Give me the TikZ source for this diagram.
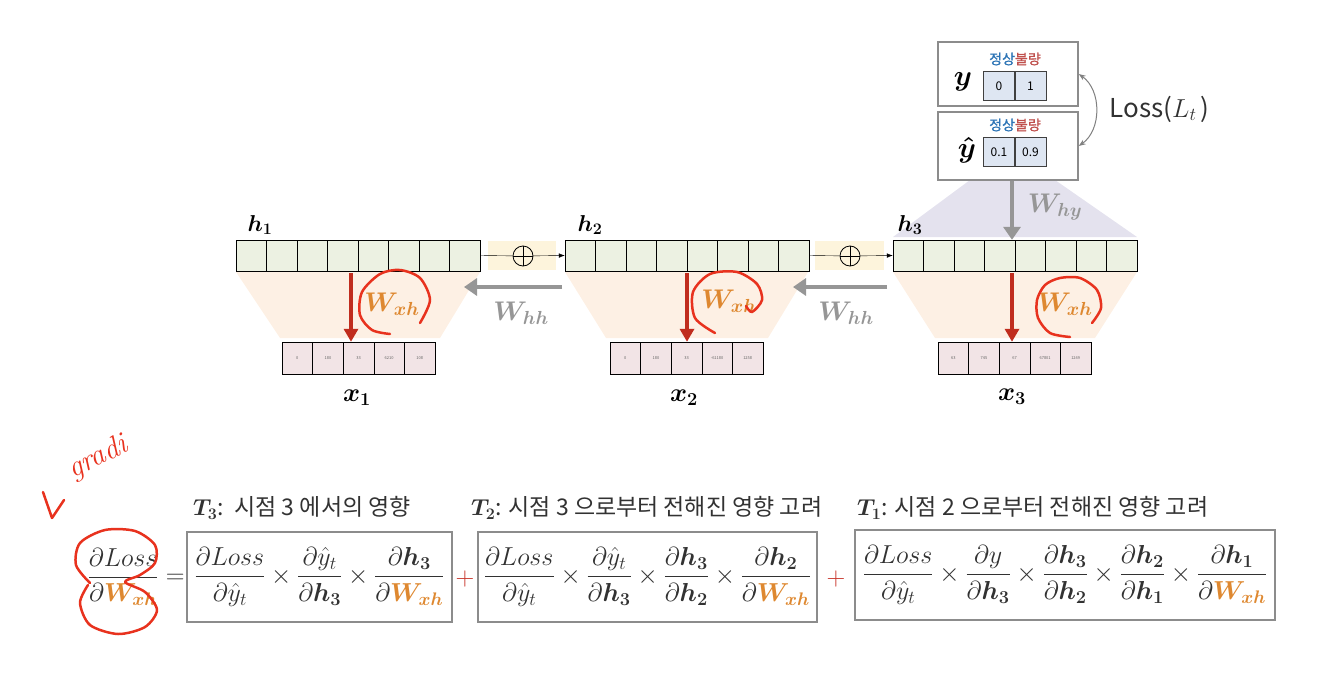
\RequirePackage{fix-cm}
\documentclass[tikz,border=0pt]{standalone}
\usepackage{amsmath}
\usepackage{fontspec}
\newfontfamily\krfont{Noto Sans CJK KR}
\newfontfamily\krbold[FakeBold=1.2]{Noto Sans CJK KR}
\usetikzlibrary{arrows.meta}

\definecolor{hgreen}{RGB}{236,241,226}
\definecolor{xpink}{RGB}{242,228,230}
\definecolor{ycellblue}{RGB}{222,230,242}
\definecolor{peach}{RGB}{253,240,228}
\definecolor{hlyellow}{RGB}{253,244,220}
\definecolor{lavender}{RGB}{228,226,238}
\definecolor{wgray}{RGB}{150,150,150}
\definecolor{worange}{RGB}{222,136,48}
\definecolor{darkred}{RGB}{192,45,30}
\definecolor{penred}{RGB}{232,50,30}
\definecolor{plusred}{RGB}{200,55,45}
\definecolor{boxgray}{RGB}{140,140,140}
\definecolor{kblue}{RGB}{46,117,182}
\definecolor{kred}{RGB}{192,80,77}
\definecolor{textgray}{RGB}{50,50,50}

\begin{document}
\begin{tikzpicture}[x=1pt, y=-1pt,
    hcell/.style={draw, fill=hgreen, minimum width=30.5pt, minimum height=31pt, inner sep=0pt},
    xcell/.style={draw, fill=xpink, minimum width=30.6pt, minimum height=32pt, inner sep=0pt,
                  font=\krfont\fontsize{4}{4}\selectfont, text=black!60},
    ycell/.style={draw=black!75, fill=ycellblue, minimum width=31pt, minimum height=29pt, inner sep=0pt,
                  font=\krfont\fontsize{12}{12}\selectfont},
    outbox/.style={draw=boxgray, line width=1.5pt, fill=white, minimum width=140pt, inner sep=0pt},
    tagtext/.style={font=\krbold\fontsize{14}{14}\selectfont, inner sep=0pt},
    garrow/.style={draw=wgray, line width=4.5pt, -{Triangle[length=13pt, width=17pt]}},
    rarrow/.style={draw=darkred, line width=3.5pt, -{Triangle[length=13pt, width=14pt]}},
    oplus/.style={circle, draw, thick, minimum size=20pt, inner sep=0pt,
                  path picture={\draw (path picture bounding box.north) -- (path picture bounding box.south)
                                (path picture bounding box.west) -- (path picture bounding box.east);}},
    vlabel/.style={font=\fontsize{26}{26}\selectfont, inner sep=0pt},
    wlabel/.style={font=\fontsize{27}{27}\selectfont, inner sep=0pt},
    termbox/.style={draw=boxgray, line width=1.5pt, minimum height=90pt, inner sep=2pt,
                    font=\fontsize{26}{30}\selectfont, text=textgray},
    header/.style={font=\krfont\fontsize{23}{23}\selectfont, text=textgray, anchor=west, inner sep=0pt},
    redpen/.style={draw=penred, line width=2.5pt, line cap=round, line join=round}
  ]
  \useasboundingbox (0,0) rectangle (1340,696);

  % shaded backgrounds
  \fill[lavender] (970,180) -- (1055,180) -- (1137,237) -- (893,237) -- cycle;
  \fill[peach] (236,272) -- (480,272) -- (440,338) -- (280,338) -- cycle;
  \fill[peach] (565,272) -- (808,272) -- (768,338) -- (606,338) -- cycle;
  \fill[peach] (893,272) -- (1137,272) -- (1095,338) -- (935,338) -- cycle;
  \fill[hlyellow] (488,241) rectangle (556,270);
  \fill[hlyellow] (815,241) rectangle (884,270);

  % output y and y-hat
  \node[outbox, minimum height=64pt] (ybox) at (1008,74) {};
  \node[outbox, minimum height=68pt] (yhbox) at (1008,146) {};
  \node[tagtext] (ytag) at (1015,59) {\textcolor{kblue}{정상}\textcolor{kred}{불량}};
  \node[tagtext] (yhtag) at (1015,125) {\textcolor{kblue}{정상}\textcolor{kred}{불량}};
  \node[ycell] (y0) at (999,86) {0};
  \node[ycell] (y1) at (1030.5,86) {1};
  \node[ycell] (yh0) at (999,152) {0.1};
  \node[ycell] (yh1) at (1030.5,152) {0.9};
  \node[vlabel, font=\fontsize{29}{29}\selectfont] (ylab) at (963,82) {$\boldsymbol{y}$};
  \node[vlabel, font=\fontsize{29}{29}\selectfont] (yhlab) at (967,150) {$\boldsymbol{\hat{y}}$};
  \draw[gray, line width=1pt, {Stealth[length=7pt]}-{Stealth[length=7pt]}] (ybox.east) to[bend left=55] (yhbox.east);
  \node[font=\krfont\fontsize{26}{26}\selectfont, text=textgray, anchor=west] (loss) at (1106,109) {Loss($L_t$\,)};

  % hidden states
  \foreach \v/\x in {1/236, 2/565, 3/893}
    \foreach \k in {0,...,7}
      \node[hcell] (h\v-\k) at (\x+15.25+30.5*\k, 255.5) {};
  \node[vlabel, font=\fontsize{23}{23}\selectfont] (h1lab) at (260,225) {$\boldsymbol{h_1}$};
  \node[vlabel, font=\fontsize{23}{23}\selectfont] (h2lab) at (590,225) {$\boldsymbol{h_2}$};
  \node[vlabel, font=\fontsize{23}{23}\selectfont] (h3lab) at (910,225) {$\boldsymbol{h_3}$};

  \node[oplus] (p1) at (523,256) {};
  \node[oplus] (p2) at (850,256) {};
  \draw (h1-7.east) -- (p1);
  \draw[-{Latex[length=6pt]}] (p1) -- (h2-0.west);
  \draw (h2-7.east) -- (p2);
  \draw[-{Latex[length=6pt]}] (p2) -- (h3-0.west);

  % inputs
  \foreach \t [count=\k from 0] in {0,180,33,6210,108}
    \node[xcell] (x1-\k) at (282+15.3+30.6*\k, 358) {\t};
  \foreach \t [count=\k from 0] in {0,180,33,-61180,1258}
    \node[xcell] (x2-\k) at (610+15.3+30.6*\k, 358) {\t};
  \foreach \t [count=\k from 0] in {63,745,67,67801,1249}
    \node[xcell] (x3-\k) at (938+15.3+30.6*\k, 358) {\t};
  \node[vlabel] (x1lab) at (357,398) {$\boldsymbol{x_1}$};
  \node[vlabel] (x2lab) at (684,398) {$\boldsymbol{x_2}$};
  \node[vlabel] (x3lab) at (1012,397) {$\boldsymbol{x_3}$};

  % weights
  \coordinate (a1) at (351,273);
  \coordinate (a2) at (687,273);
  \coordinate (a3) at (1012,273);
  \draw[rarrow] (a1) -- (a1 |- x1-0.north);
  \draw[rarrow] (a2) -- (a2 |- x2-0.north);
  \draw[rarrow] (a3) -- (a3 |- x3-0.north);
  \node[wlabel, text=worange] (wxh1) at (392,304) {$\boldsymbol{W_{xh}}$};
  \node[wlabel, text=worange] (wxh2) at (729,301) {$\boldsymbol{W_{xh}}$};
  \node[wlabel, text=worange] (wxh3) at (1065,304) {$\boldsymbol{W_{xh}}$};

  \coordinate (b1) at (562,287);
  \coordinate (b1e) at (464,287);
  \coordinate (b2) at (887,287);
  \coordinate (b2e) at (793,287);
  \draw[garrow] (b1) -- (b1e);
  \draw[garrow] (b2) -- (b2e);
  \node[wlabel, text=wgray] (whh1) at (521,313) {$\boldsymbol{W_{hh}}$};
  \node[wlabel, text=wgray] (whh2) at (846,313) {$\boldsymbol{W_{hh}}$};

  \coordinate (c3) at (1012,181);
  \draw[garrow] (c3) -- (c3 |- h3-3.north);
  \node[wlabel, text=wgray] (why) at (1055,207) {$\boldsymbol{W_{hy}}$};

  % gradient terms
  \node[header] (t3txt) at (193,508) {$\boldsymbol{T_3}$:\, 시점 3 에서의 영향};
  \node[header] (t2txt) at (471,508) {$\boldsymbol{T_2}$: 시점 3 으로부터 전해진 영향 고려};
  \node[header] (t1txt) at (857,508) {$\boldsymbol{T_1}$: 시점 2 으로부터 전해진 영향 고려};

  \node[termbox, minimum width=265pt] (t3) at (319.5,577)
    {$\displaystyle\frac{\partial Loss}{\partial\hat{y}_t}\times\frac{\partial\hat{y}_t}{\partial\boldsymbol{h_3}}\times
      \frac{\partial\boldsymbol{h_3}}{\partial\textcolor{worange}{\boldsymbol{W_{xh}}}}$};
  \node[termbox, minimum width=339pt] (t2) at (647.5,577)
    {$\displaystyle\frac{\partial Loss}{\partial\hat{y}_t}\times\frac{\partial\hat{y}_t}{\partial\boldsymbol{h_3}}\times
      \frac{\partial\boldsymbol{h_3}}{\partial\boldsymbol{h_2}}\times
      \frac{\partial\boldsymbol{h_2}}{\partial\textcolor{worange}{\boldsymbol{W_{xh}}}}$};
  \node[termbox, minimum width=420pt] (t1) at (1065,575)
    {$\displaystyle\frac{\partial Loss}{\partial\hat{y}_t}\times\frac{\partial y}{\partial\boldsymbol{h_3}}\times
      \frac{\partial\boldsymbol{h_3}}{\partial\boldsymbol{h_2}}\times
      \frac{\partial\boldsymbol{h_2}}{\partial\boldsymbol{h_1}}\times
      \frac{\partial\boldsymbol{h_1}}{\partial\textcolor{worange}{\boldsymbol{W_{xh}}}}$};
  \node[termbox, draw=none, anchor=east, inner sep=1pt] (lhs) at (t3.west)
    {$\displaystyle\frac{\partial Loss}{\partial\textcolor{worange}{\boldsymbol{W_{xh}}}}=$};
  \node[termbox, draw=none, text=plusred, inner sep=0pt, minimum height=0pt] (plus1) at (465,579) {$+$};
  \node[termbox, draw=none, text=plusred, inner sep=0pt, minimum height=0pt] (plus2) at (836,579) {$+$};

  % pen notes
  \draw[redpen] plot[smooth] coordinates {(420,323) (430,300) (420,278) (400,270) (380,274) (362,292) (360,315) (372,330) (390,334)};
  \draw[redpen] plot[smooth] coordinates {(715,333) (695,318) (693,292) (710,274) (737,272) (757,284) (762,300) (752,312) (746,306)};
  \draw[redpen] plot[smooth] coordinates {(1070,337) (1050,333) (1038,318) (1037,300) (1045,285) (1060,278) (1080,278) (1097,290) (1101,308) (1092,323)};
  \draw[redpen] plot[smooth] coordinates {(90,583) (76,565) (80,543) (105,530) (135,531) (155,545) (155,563) (140,575) (125,582)
                                          (145,592) (157,610) (145,627) (118,634) (90,625) (80,603) (88,585)};
  \node[text=penred, rotate=27, font=\itshape\fontsize{30}{30}\selectfont] (grad) at (98,458) {gradi};
  \draw[redpen] (43,492) -- (52,518) -- (64,500);
\end{tikzpicture}
\end{document}
